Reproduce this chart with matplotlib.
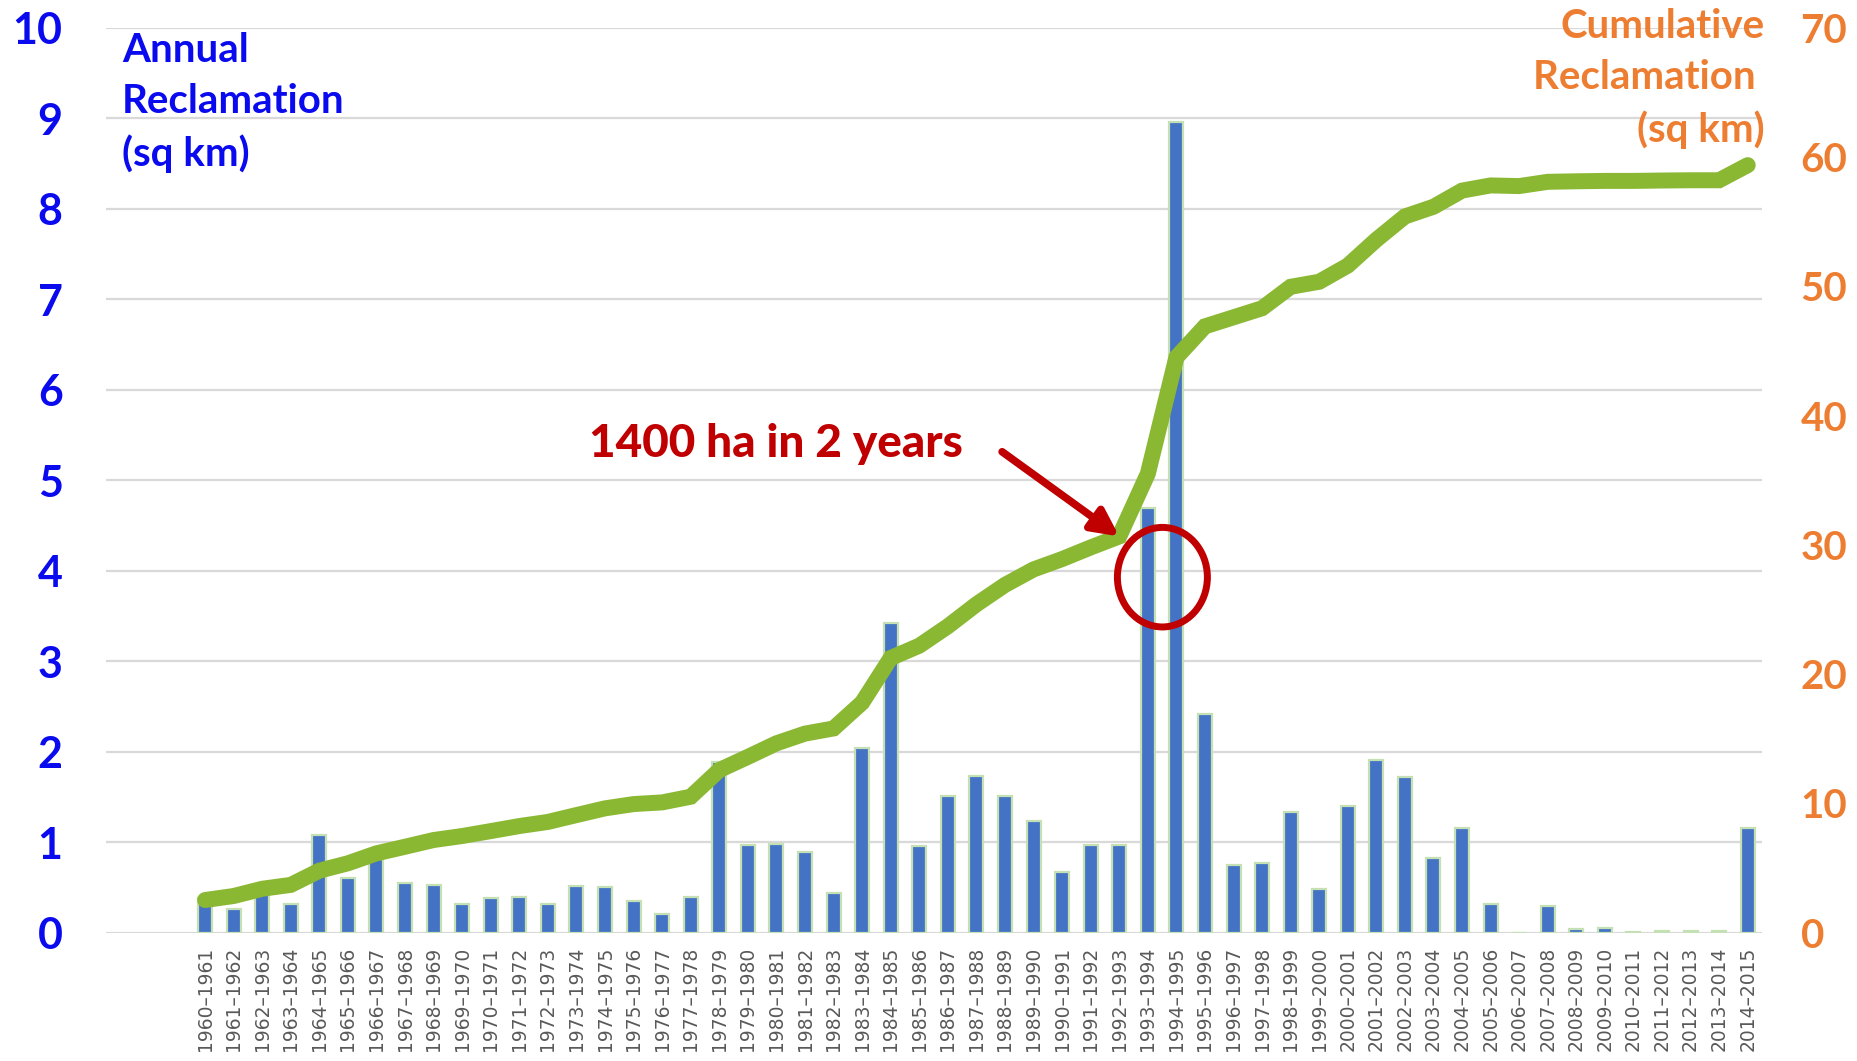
import matplotlib
matplotlib.use("agg")
import matplotlib.pyplot as plt
from matplotlib.patches import Ellipse

# season start years, 1960-61 ... 2014-15
start_years = list(range(1960, 2015))
seasons = ["%d\u2013%d" % (y, y + 1) for y in start_years]

# annual reclamation (sq km)
annual = [0.38, 0.26, 0.45, 0.32, 1.08, 0.60, 0.82, 0.55, 0.53, 0.32,
          0.38, 0.40, 0.32, 0.52, 0.50, 0.35, 0.21, 0.40, 1.89, 0.97,
          0.98, 0.89, 0.435, 2.04, 3.42, 0.96, 1.51, 1.73, 1.51, 1.23,
          0.67, 0.97, 0.97, 4.69, 8.96, 2.42, 0.75, 0.77, 1.33, 0.48,
          1.40, 1.91, 1.72, 0.83, 1.16, 0.32, 0.0, 0.295, 0.045, 0.055,
          0.01, 0.015, 0.015, 0.02, 1.16]

# cumulative reclamation (sq km)
cumulative = [2.53, 2.84, 3.40, 3.70, 4.80, 5.37, 6.14, 6.65, 7.17, 7.48,
              7.86, 8.25, 8.57, 9.10, 9.62, 9.95, 10.08, 10.52, 12.58, 13.60,
              14.65, 15.40, 15.80, 17.80, 21.25, 22.20, 23.70, 25.40, 26.90, 28.10,
              28.90, 29.80, 30.65, 35.50, 44.50, 46.90, 47.60, 48.30, 49.96, 50.35,
              51.60, 53.60, 55.40, 56.15, 57.40, 57.80, 57.75, 58.08, 58.12, 58.15,
              58.15, 58.18, 58.20, 58.20, 59.37]

left_ticks = list(range(0, 11))
right_ticks = list(range(0, 71, 10))

BLUE_TXT = "#0A0AEE"
ORANGE = "#ED7D31"
BAR = "#4472C4"
BAR_EDGE = "#C5E0B4"
GREEN = "#8AB833"
RED = "#C00000"
GRID = "#D9D9D9"

fig = plt.figure(figsize=(18.57, 10.61), dpi=100)
ax = fig.add_axes([0.0569, 0.1209, 0.8918, 0.8530])
ax2 = ax.twinx()

x = list(range(len(seasons)))
ax.bar(x, annual, width=0.49, color=BAR, edgecolor=BAR_EDGE, linewidth=1.6, zorder=2)
ax.set_ylim(0, 10)
ax.set_xlim(-3.48, 54.49)
ax.set_yticks(left_ticks)
ax.set_yticklabels([str(t) for t in left_ticks], fontsize=31, fontweight="bold",
                   color=BLUE_TXT, family="Lato")
ax.yaxis.grid(True, color=GRID, linewidth=1.6)
ax.set_axisbelow(True)
ax.set_xticks(x)
ax.set_xticklabels(seasons, rotation=90, fontsize=13.5, color="#595959",
                   family="DejaVu Sans")
ax.tick_params(axis="y", length=0, pad=31)
ax.tick_params(axis="x", length=0, pad=10)

ax2.plot(x, cumulative, color=GREEN, linewidth=11.5, solid_capstyle="round",
         solid_joinstyle="miter", zorder=3)
ax2.set_ylim(0, 70)
ax2.set_yticks(right_ticks)
ax2.set_yticklabels([str(t) for t in right_ticks], fontsize=29, fontweight="bold",
                    color=ORANGE, family="Lato")
ax2.tick_params(axis="y", length=0, pad=28)

for a in (ax, ax2):
    for s in a.spines.values():
        s.set_visible(False)

# axis titles
fig.text(0.0657, 0.970, "Annual\nReclamation\n(sq km)", ha="left", va="top",
         fontsize=29, fontweight="bold", color=BLUE_TXT, family="Lato",
         linespacing=1.46)
fig.text(0.9505, 0.9925, "Cumulative\nReclamation \n(sq km)", ha="right", va="top",
         fontsize=29, fontweight="bold", color=ORANGE, family="Lato",
         linespacing=1.46)

# annotation
fig.text(0.317, 0.569, "1400 ha in 2 years", ha="left", va="baseline",
         fontsize=33, fontweight="black", color=RED, family="Lato")
ax2.annotate("", xy=(32, cumulative[32]), xytext=(27.9, 37.2),
             arrowprops=dict(arrowstyle="-|>", color=RED, lw=5.5,
                             mutation_scale=40, shrinkA=0, shrinkB=0),
             zorder=5)
ax2.add_patch(Ellipse((33.51, 27.5), 3.15, 7.7, fill=False, edgecolor=RED,
                      linewidth=5, zorder=5))

fig.savefig("out.png", dpi=100)
